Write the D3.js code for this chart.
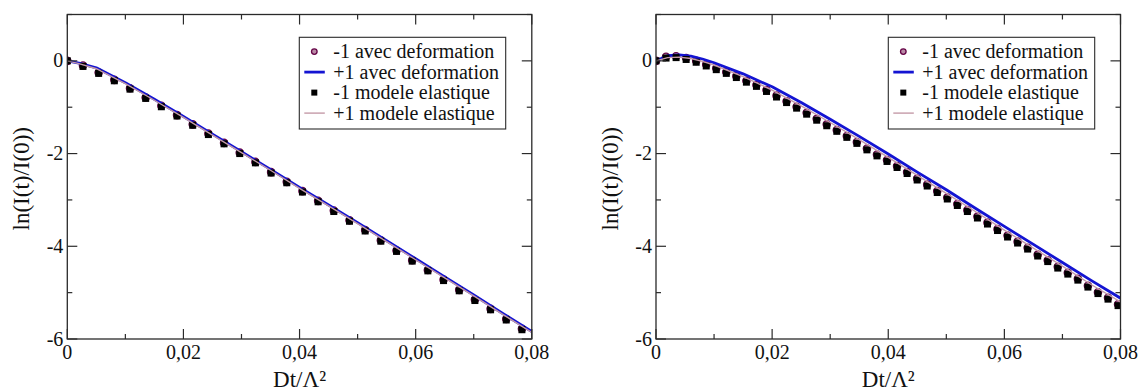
<!DOCTYPE html>
<html><head><meta charset="utf-8">
<script src="https://cdn.jsdelivr.net/npm/d3@7"></script>
</head>
<body style="margin:0;background:#fff">
<svg id="chart" width="1139" height="392" style="display:block"></svg>
<script>
// ---- tick values / labels ----
const xMajorTicks = [0, 0.02, 0.04, 0.06, 0.08];
const xMajorLabels = ["0", "0,02", "0,04", "0,06", "0,08"];
const xMinorTicks = [0.01, 0.03, 0.05, 0.07];
const yMajorTicks = [0, -2, -4, -6];
const yMajorLabels = ["0", "-2", "-4", "-6"];
const yMinorTicks = [1, -1, -3, -5];
const xTitle = "Dt/Λ²";
const yTitle = "ln(I(t)/I(0))";
const legendLabels = ["-1 avec deformation", "+1 avec deformation", "-1 modele elastique", "+1 modele elastique"];

// ---- left panel data ----
const leftDotX = [0, 0.0027, 0.0054, 0.0081, 0.0108, 0.0135, 0.0162, 0.0189, 0.0216, 0.0243, 0.027, 0.0297, 0.0324, 0.0351, 0.0378, 0.0405, 0.0432, 0.0459, 0.0486, 0.0513, 0.054, 0.0567, 0.0594, 0.0621, 0.0648, 0.0675, 0.0702, 0.0729, 0.0756, 0.0783];
const leftMinus1Elastic = [0, -0.12, -0.27, -0.43, -0.61, -0.81, -0.99, -1.19, -1.39, -1.59, -1.79, -2.00, -2.20, -2.42, -2.63, -2.83, -3.04, -3.25, -3.46, -3.67, -3.89, -4.11, -4.32, -4.53, -4.74, -4.96, -5.17, -5.37, -5.59, -5.80];
const leftMinus1Deform = [0, -0.10, -0.25, -0.41, -0.59, -0.79, -0.97, -1.17, -1.37, -1.57, -1.77, -1.98, -2.18, -2.40, -2.61, -2.81, -3.02, -3.23, -3.44, -3.65, -3.87, -4.09, -4.30, -4.51, -4.72, -4.94, -5.15, -5.35, -5.57, -5.78];
const leftLineX = [0, 0.002, 0.005, 0.01, 0.015, 0.02, 0.025, 0.03, 0.035, 0.04, 0.045, 0.05, 0.055, 0.06, 0.065, 0.07, 0.075, 0.08];
const leftPlus1Deform = [0, -0.05, -0.15, -0.47, -0.83, -1.20, -1.58, -1.96, -2.34, -2.73, -3.11, -3.49, -3.88, -4.27, -4.66, -5.05, -5.45, -5.84];
const leftPlus1Elastic = [0, -0.06, -0.17, -0.49, -0.85, -1.22, -1.60, -1.98, -2.36, -2.75, -3.13, -3.51, -3.90, -4.29, -4.68, -5.07, -5.47, -5.86];

// ---- right panel data ----
const rightDotX = [0, 0.00173, 0.00346, 0.00519, 0.00692, 0.00865, 0.01038, 0.01211, 0.01384, 0.01557, 0.0173, 0.01903, 0.02076, 0.02249, 0.02422, 0.02595, 0.02768, 0.02941, 0.03114, 0.03287, 0.0346, 0.03633, 0.03806, 0.03979, 0.04152, 0.04325, 0.04498, 0.04671, 0.04844, 0.05017, 0.0519, 0.05363, 0.05536, 0.05709, 0.05882, 0.06055, 0.06228, 0.06401, 0.06574, 0.06747, 0.0692, 0.07093, 0.07266, 0.07439, 0.07612, 0.07785, 0.07958];
const rightMinus1Elastic = [0, 0.06, 0.07, 0.03, -0.03, -0.11, -0.19, -0.27, -0.36, -0.46, -0.55, -0.66, -0.78, -0.90, -1.02, -1.15, -1.28, -1.40, -1.52, -1.65, -1.78, -1.92, -2.05, -2.17, -2.30, -2.43, -2.57, -2.70, -2.84, -2.98, -3.12, -3.25, -3.39, -3.52, -3.66, -3.80, -3.93, -4.06, -4.21, -4.33, -4.47, -4.60, -4.73, -4.88, -5.02, -5.14, -5.28];
const rightMinus1Deform = [0, 0.09, 0.10, 0.06, 0.00, -0.08, -0.16, -0.24, -0.33, -0.43, -0.52, -0.63, -0.75, -0.87, -0.99, -1.12, -1.25, -1.37, -1.49, -1.62, -1.75, -1.89, -2.02, -2.14, -2.27, -2.40, -2.54, -2.67, -2.81, -2.95, -3.09, -3.22, -3.36, -3.49, -3.63, -3.77, -3.90, -4.03, -4.18, -4.30, -4.44, -4.57, -4.70, -4.85, -4.99, -5.11, -5.25];
const rightLineX = [0, 0.002, 0.004, 0.006, 0.008, 0.01, 0.015, 0.02, 0.025, 0.03, 0.035, 0.04, 0.045, 0.05, 0.055, 0.06, 0.065, 0.07, 0.075, 0.08];
const rightPlus1Deform = [0, 0.11, 0.13, 0.10, 0.04, -0.04, -0.28, -0.56, -0.90, -1.26, -1.63, -2.01, -2.40, -2.78, -3.18, -3.57, -3.96, -4.35, -4.74, -5.12];
const rightPlus1Elastic = [0, 0.07, 0.08, 0.05, -0.01, -0.09, -0.34, -0.63, -0.97, -1.33, -1.70, -2.08, -2.47, -2.86, -3.25, -3.65, -4.04, -4.43, -4.83, -5.20];

// ---- styles ----
const COL_BLUE = "#1414d2";
const COL_PINK = "#c49aa8";
const COL_MAROON = "#670748";
const COL_CIRCLE_FILL = "#b98aa6";
const COL_FRAME = "#2a2a2a";

const svg = d3.select("#chart").attr("font-family", "Liberation Serif");

function txt(parent, x, y, size, s, anchor) {
  return parent.append("text").attr("x", x).attr("y", y)
    .attr("text-anchor", anchor || "start")
    .attr("font-family", "Liberation Serif")
    .attr("font-size", size)
    .attr("fill", "#111").text(s);
}

function drawPanel(cfg) {
  const left = cfg.left, right = cfg.left + 464.5, top = 14.5, bottom = 339;
  const x = d3.scaleLinear().domain([0, 0.08]).range([left, right]);
  const y = d3.scaleLinear().domain([-6, 1]).range([bottom, top]);
  const g = svg.append("g");

  const clipId = "clip" + cfg.id;
  svg.append("clipPath").attr("id", clipId).append("rect")
    .attr("x", left).attr("y", top).attr("width", right - left).attr("height", bottom - top);

  const plot = g.append("g").attr("clip-path", `url(#${clipId})`);

  plot.append("g").selectAll("circle").data(cfg.dotX).join("circle")
    .attr("cx", d => x(d)).attr("cy", (d, i) => y(cfg.minus1Deform[i]))
    .attr("r", 3.6).attr("fill", COL_CIRCLE_FILL).attr("stroke", COL_MAROON).attr("stroke-width", 1.4);

  const line = d3.line().x(d => x(d[0])).y(d => y(d[1]));
  plot.append("path").datum(cfg.lineX.map((v, i) => [v, cfg.plus1Deform[i]]))
    .attr("d", line).attr("fill", "none").attr("stroke", COL_BLUE).attr("stroke-width", 2.8)
    .attr("stroke-linejoin", "round");

  const s = 7;
  plot.append("g").selectAll("rect").data(cfg.dotX).join("rect")
    .attr("x", d => x(d) - s / 2).attr("y", (d, i) => y(cfg.minus1Elastic[i]) - s / 2)
    .attr("width", s).attr("height", s).attr("fill", "#000");

  plot.append("path").datum(cfg.lineX.map((v, i) => [v, cfg.plus1Elastic[i]]))
    .attr("d", line).attr("fill", "none").attr("stroke", COL_PINK).attr("stroke-width", 1.4);

  g.append("rect").attr("x", left).attr("y", top).attr("width", right - left).attr("height", bottom - top)
    .attr("fill", "none").attr("stroke", COL_FRAME).attr("stroke-width", 1.3);

  const majL = 10, minL = 5;
  const tk = g.append("g").attr("stroke", COL_FRAME).attr("stroke-width", 1.2);
  xMajorTicks.forEach(v => {
    tk.append("line").attr("x1", x(v)).attr("x2", x(v)).attr("y1", bottom).attr("y2", bottom - majL);
    tk.append("line").attr("x1", x(v)).attr("x2", x(v)).attr("y1", top).attr("y2", top + majL);
  });
  xMinorTicks.forEach(v => {
    tk.append("line").attr("x1", x(v)).attr("x2", x(v)).attr("y1", bottom).attr("y2", bottom - minL);
    tk.append("line").attr("x1", x(v)).attr("x2", x(v)).attr("y1", top).attr("y2", top + minL);
  });
  yMajorTicks.forEach(v => {
    tk.append("line").attr("x1", left).attr("x2", left + majL).attr("y1", y(v)).attr("y2", y(v));
    tk.append("line").attr("x1", right).attr("x2", right - majL).attr("y1", y(v)).attr("y2", y(v));
  });
  yMinorTicks.forEach(v => {
    tk.append("line").attr("x1", left).attr("x2", left + minL).attr("y1", y(v)).attr("y2", y(v));
    tk.append("line").attr("x1", right).attr("x2", right - minL).attr("y1", y(v)).attr("y2", y(v));
  });

  xMajorTicks.forEach((v, i) => txt(g, x(v), bottom + 20, 20, xMajorLabels[i], "middle"));
  yMajorTicks.forEach((v, i) => txt(g, left - 4, y(v) + 6.5, 20, yMajorLabels[i], "end"));

  txt(g, (left + right) / 2, 387, 23, xTitle, "middle");
  txt(g, 0, 0, 23, yTitle, "middle")
    .attr("transform", `translate(${left - 38},${(top + bottom) / 2 + 2}) rotate(-90)`);

  const lx = cfg.legendX, ly = 37.3, lw = 206.4, lh = 91.7;
  const lg = g.append("g");
  lg.append("rect").attr("x", lx).attr("y", ly).attr("width", lw).attr("height", lh)
    .attr("fill", "#fff").attr("stroke", COL_FRAME).attr("stroke-width", 1.1);
  const rowY = [51.6, 72.1, 92.6, 113.1];
  const sx = lx + 15;
  lg.append("circle").attr("cx", sx).attr("cy", rowY[0]).attr("r", 2.8)
    .attr("fill", COL_CIRCLE_FILL).attr("stroke", COL_MAROON).attr("stroke-width", 1.3);
  lg.append("line").attr("x1", lx + 5).attr("x2", lx + 25.5).attr("y1", rowY[1]).attr("y2", rowY[1])
    .attr("stroke", COL_BLUE).attr("stroke-width", 2.8);
  lg.append("rect").attr("x", sx - 3).attr("y", rowY[2] - 3).attr("width", 6).attr("height", 6).attr("fill", "#000");
  lg.append("line").attr("x1", lx + 5).attr("x2", lx + 25.5).attr("y1", rowY[3]).attr("y2", rowY[3])
    .attr("stroke", COL_PINK).attr("stroke-width", 1.4);
  legendLabels.forEach((t, i) => txt(lg, lx + 34, rowY[i] + 6.5, 20, t));
}

drawPanel({
  id: "L", left: 67.3, legendX: 299.3,
  dotX: leftDotX, minus1Deform: leftMinus1Deform, minus1Elastic: leftMinus1Elastic,
  lineX: leftLineX, plus1Deform: leftPlus1Deform, plus1Elastic: leftPlus1Elastic
});
drawPanel({
  id: "R", left: 656, legendX: 888.3,
  dotX: rightDotX, minus1Deform: rightMinus1Deform, minus1Elastic: rightMinus1Elastic,
  lineX: rightLineX, plus1Deform: rightPlus1Deform, plus1Elastic: rightPlus1Elastic
});
</script>
</body></html>
